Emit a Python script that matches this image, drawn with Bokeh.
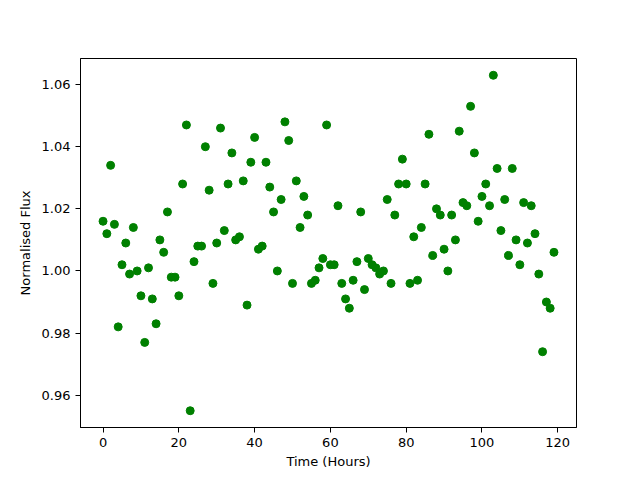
from bokeh.plotting import figure
from bokeh.models import Range1d, FixedTicker, NumeralTickFormatter
from bokeh.embed import file_html
from bokeh.resources import INLINE

hours = list(range(120))
flux = [
    1.016, 1.012, 1.034, 1.015, 0.982, 1.002, 1.009, 0.999, 1.014, 1.000,
    0.992, 0.977, 1.001, 0.991, 0.983, 1.010, 1.006, 1.019, 0.998, 0.998,
    0.992, 1.028, 1.047, 0.955, 1.003, 1.008, 1.008, 1.040, 1.026, 0.996,
    1.009, 1.046, 1.013, 1.028, 1.038, 1.010, 1.011, 1.029, 0.989, 1.035,
    1.043, 1.007, 1.008, 1.035, 1.027, 1.019, 1.000, 1.023, 1.048, 1.042,
    0.996, 1.029, 1.014, 1.024, 1.018, 0.996, 0.997, 1.001, 1.004, 1.047,
    1.002, 1.002, 1.021, 0.996, 0.991, 0.988, 0.997, 1.003, 1.019, 0.994,
    1.004, 1.002, 1.001, 0.999, 1.000, 1.023, 0.996, 1.018, 1.028, 1.036,
    1.028, 0.996, 1.011, 0.997, 1.014, 1.028, 1.044, 1.005, 1.020, 1.018,
    1.007, 1.000, 1.018, 1.010, 1.045, 1.022, 1.021, 1.053, 1.038, 1.016,
    1.024, 1.028, 1.021, 1.063, 1.033, 1.013, 1.023, 1.005, 1.033, 1.010,
    1.002, 1.022, 1.009, 1.021, 1.012, 0.999, 0.974, 0.990, 0.988, 1.006,
]
x_ticks = [0, 20, 40, 60, 80, 100, 120]
y_ticks = [0.96, 0.98, 1.00, 1.02, 1.04, 1.06]

p = figure(
    frame_width=496, frame_height=369,
    min_border_left=80, min_border_right=48,
    min_border_top=58, min_border_bottom=37,
    output_backend="svg", toolbar_location=None,
    x_range=Range1d(-5.95, 124.95), y_range=Range1d(0.9496, 1.0684),
)
p.scatter(hours, flux, size=8, fill_color="#008000", line_color="#008000")

p.grid.visible = False
p.outline_line_color = "black"
p.outline_line_width = 1
p.xaxis.ticker = FixedTicker(ticks=x_ticks)
p.yaxis.ticker = FixedTicker(ticks=y_ticks)
p.yaxis.formatter = NumeralTickFormatter(format="0.00")
p.xaxis.axis_label = "Time (Hours)"
p.yaxis.axis_label = "Normalised Flux"
for ax in (p.xaxis, p.yaxis):
    ax.minor_tick_line_color = None
    ax.major_tick_out = 5
    ax.major_tick_in = 0
    ax.axis_line_color = "black"
    ax.major_tick_line_color = "black"
    ax.major_label_text_font = "DejaVu Sans"
    ax.major_label_text_font_size = "13px"
    ax.major_label_text_color = "black"
    ax.axis_label_text_font = "DejaVu Sans"
    ax.axis_label_text_font_size = "13px"
    ax.axis_label_text_font_style = "normal"
    ax.axis_label_text_color = "black"
p.yaxis.major_label_orientation = "horizontal"
p.xaxis.axis_label_standoff = 4
p.yaxis.axis_label_standoff = 6

open("out.html", "w").write(file_html(p, INLINE))
